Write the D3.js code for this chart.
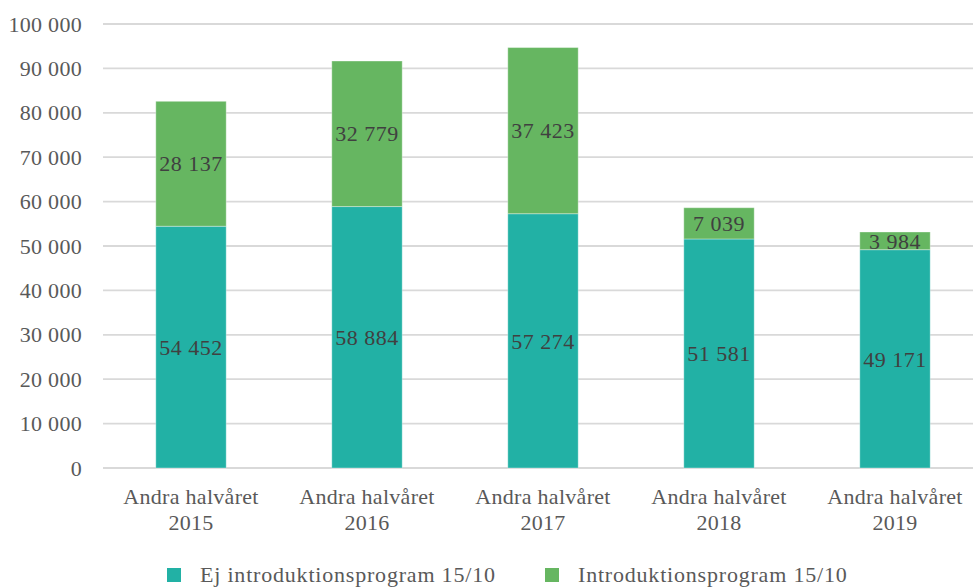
<!DOCTYPE html>
<html>
<head>
<meta charset="utf-8">
<script src="https://cdn.jsdelivr.net/npm/d3@7"></script>
<style>
  body{margin:0;background:#fff;}
  svg{display:block;}
</style>
</head>
<body>
<div id="chart"></div>
<script>
// data
const categories=["Andra halvåret 2015","Andra halvåret 2016","Andra halvåret 2017","Andra halvåret 2018","Andra halvåret 2019"];
const ejIntro=[54452,58884,57274,51581,49171];
const intro=[28137,32779,37423,7039,3984];
const seriesNames=["Ej introduktionsprogram 15/10","Introduktionsprogram 15/10"];
const yTicks=[0,10000,20000,30000,40000,50000,60000,70000,80000,90000,100000];

const W=973,H=588;
const COLORS=["#22b1a5","#66b661"];
const FONT="Liberation Serif, DejaVu Serif, serif";

const svg=d3.select("#chart").append("svg").attr("width",W).attr("height",H);

const x=d3.scaleBand().domain(categories).range([103,983]).paddingInner(0.6).paddingOuter(0.3);
const y=d3.scaleLinear().domain([0,100000]).range([468,24]);
const fmt=v=>d3.format(",")(v).replace(/,/g," ");

// ── GRID ──
svg.append("g").selectAll("line").data(yTicks).join("line")
  .attr("x1",103).attr("x2",W).attr("y1",d=>y(d)).attr("y2",d=>y(d))
  .attr("stroke","#d9d9d9").attr("stroke-width",1.8);

// y axis labels
const yAxis=svg.append("g").attr("transform","translate(85,0)")
  .call(d3.axisLeft(y).tickValues(yTicks).tickSize(0).tickFormat(fmt));
yAxis.select(".domain").remove();
yAxis.attr("font-family",null).attr("font-size",null);
yAxis.selectAll("text").style("font-family",FONT).style("font-size","22px")
  .style("letter-spacing","0.3px").attr("fill","#595959");

// ── BARS ──
const stackData=categories.map((c,i)=>({cat:c,a:ejIntro[i],b:intro[i]}));
const stack=d3.stack().keys(["a","b"])(stackData);

stack.forEach((layer,li)=>{
  const g=svg.append("g");
  g.selectAll("rect").data(layer).join("rect")
    .attr("x",d=>x(d.data.cat)).attr("width",x.bandwidth())
    .attr("y",d=>y(d[1])).attr("height",d=>y(d[0])-y(d[1]))
    .attr("fill",COLORS[li]).attr("stroke","#ffffff").attr("stroke-opacity",0.35).attr("stroke-width",1);
  g.selectAll("text").data(layer).join("text")
    .attr("x",d=>x(d.data.cat)+x.bandwidth()/2)
    .attr("y",d=>(y(d[0])+y(d[1]))/2)
    .attr("dy","0.35em").attr("text-anchor","middle")
    .style("font-family",FONT).style("font-size","22px").style("letter-spacing","0.5px").attr("fill","#404040")
    .text(d=>fmt(d[1]-d[0]));
});

// ── X LABELS ──
const xl=svg.append("g");
categories.forEach(c=>{
  const parts=c.split(" ");
  const t=xl.append("text").attr("text-anchor","middle")
    .style("font-family",FONT).style("font-size","22px").style("letter-spacing","0.3px").attr("fill","#595959");
  t.append("tspan").attr("x",x(c)+x.bandwidth()/2).attr("y",504).text(parts.slice(0,2).join(" "));
  t.append("tspan").attr("x",x(c)+x.bandwidth()/2).attr("y",530).text(parts[2]);
});

// ── LEGEND ──
const legX=[167,545];
seriesNames.forEach((n,i)=>{
  const lg=svg.append("g").attr("transform",`translate(${legX[i]},568)`);
  lg.append("rect").attr("x",0).attr("y",0).attr("width",14).attr("height",14).attr("fill",COLORS[i]);
  lg.append("text").attr("x",33).attr("y",14).style("font-family",FONT).style("font-size","22px")
    .style("letter-spacing","0.8px").attr("fill","#595959").text(n);
});
</script>
</body>
</html>
